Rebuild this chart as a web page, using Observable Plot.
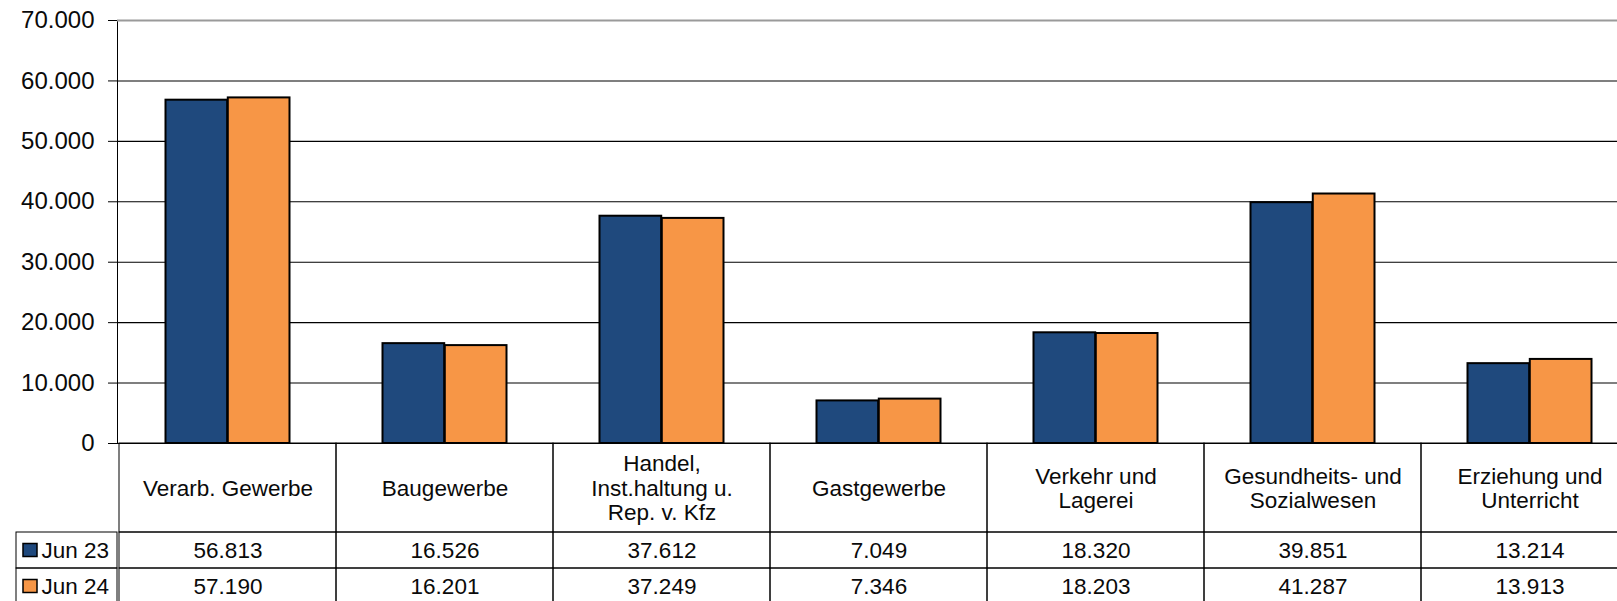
<!DOCTYPE html>
<html>
<head>
<meta charset="utf-8">
<script src="https://cdn.jsdelivr.net/npm/d3@7"></script>
<script src="https://cdn.jsdelivr.net/npm/@observablehq/plot@0.6"></script>
<style>
  html, body { margin: 0; padding: 0; background: #fff; overflow: hidden; }
  #wrap { position: relative; width: 1640px; height: 601px; }
  #wrap > svg, #wrap > figure { position: absolute; margin: 0; }
</style>
</head>
<body>
<div id="wrap"></div>
<script>
// ---- data ----
const categories = [
  "Verarb. Gewerbe",
  "Baugewerbe",
  "Handel,\nInst.haltung u.\nRep. v. Kfz",
  "Gastgewerbe",
  "Verkehr und\nLagerei",
  "Gesundheits- und\nSozialwesen",
  "Erziehung und\nUnterricht"
];
const series = ["Jun 23", "Jun 24"];
const jun23 = [56813, 16526, 37612, 7049, 18320, 39851, 13214];
const jun24 = [57190, 16201, 37249, 7346, 18203, 41287, 13913];
const yTicks = [0, 10000, 20000, 30000, 40000, 50000, 60000, 70000];
const colors = ["#1F497D", "#F79646"];

const rows23 = categories.map((c, i) => ({category: c, series: series[0], value: jun23[i]}));
const rows24 = categories.map((c, i) => ({category: c, series: series[1], value: jun24[i]}));
const tableData = rows23.concat(rows24);

const de = d3.formatLocale({decimal: ",", thousands: ".", grouping: [3], currency: ["", " €"]});
const fmt = de.format(",d");

// ---- layout ----
const FONT = "'Liberation Sans', Arial, Helvetica, sans-serif";
const PL = 117, PT = 20, PB = 443, PR = 1640;
const plotW = PR - PL;
const bw = plotW / categories.length;
const outer = 46.5;
const textColor = "#0a0a0a";
const lineColor = "#000";

const wrap = document.getElementById("wrap");

// Chart
const chart = Plot.plot({
  width: PR, height: PB + 17,
  marginTop: PT, marginBottom: 17, marginLeft: PL, marginRight: 0,
  style: {fontFamily: FONT, fontSize: "24px", color: textColor, background: "transparent", maxWidth: "none"},
  x: {domain: categories, padding: 0, axis: null},
  y: {domain: [0, 70000], axis: null},
  marks: [
    Plot.frame({stroke: lineColor}),
    Plot.ruleY(yTicks.slice(1, -1), {stroke: "#000", strokeWidth: 1.1}),
    Plot.ruleY([70000], {stroke: "#9a9a9a", strokeWidth: 2}),
    Plot.barY(rows23, {x: "category", y: "value", fill: colors[0], stroke: "#000", strokeWidth: 2,
      insetLeft: outer, insetRight: bw / 2}),
    Plot.barY(rows24, {x: "category", y: "value", fill: colors[1], stroke: "#000", strokeWidth: 2,
      insetLeft: bw / 2, insetRight: outer}),
    Plot.ruleY([0], {stroke: lineColor}),
    Plot.axisY(yTicks, {anchor: "left", tickFormat: fmt, tickSize: 9, tickPadding: 14,
      stroke: lineColor, fill: textColor, label: null})
  ]
});
chart.style.left = "0px"; chart.style.top = "0px";
wrap.appendChild(chart);

// Header row (category labels)
const header = Plot.plot({
  width: plotW + 2, height: (532 - PB) + 2,
  margin: 1,
  style: {fontFamily: FONT, fontSize: "22.5px", color: textColor, background: "transparent", maxWidth: "none"},
  x: {domain: categories, padding: 0, axis: null},
  marks: [
    Plot.cell(categories, {x: d => d, stroke: lineColor, fill: "none"}),
    Plot.text(categories, {x: d => d, text: d => d, frameAnchor: "middle", lineHeight: 1.09, fill: textColor})
  ]
});
header.style.left = (PL - 1) + "px"; header.style.top = (PB - 1) + "px";
wrap.appendChild(header);

// Value rows
const rows = Plot.plot({
  width: plotW + 2, height: 74,
  margin: 1,
  style: {fontFamily: FONT, fontSize: "22.5px", color: textColor, background: "transparent", maxWidth: "none"},
  x: {domain: categories, padding: 0, axis: null},
  y: {domain: series, padding: 0, range: [1, 73], axis: null},
  marks: [
    Plot.cell(tableData, {x: "category", y: "series", stroke: lineColor, fill: "none"}),
    Plot.text(tableData, {x: "category", y: "series", text: d => fmt(d.value), fill: textColor})
  ]
});
rows.style.left = (PL - 1) + "px"; rows.style.top = "531px";
wrap.appendChild(rows);

// Row labels with legend keys
const labels = Plot.plot({
  width: 103, height: 74,
  margin: 1,
  style: {fontFamily: FONT, fontSize: "22.5px", color: textColor, background: "transparent", maxWidth: "none"},
  y: {domain: series, padding: 0, range: [1, 73], axis: null},
  color: {domain: series, range: colors},
  marks: [
    Plot.cell(series, {y: d => d, stroke: lineColor, fill: "none"}),
    Plot.cell(series, {y: d => d, fill: d => d, stroke: "#000", strokeWidth: 1.5,
      insetLeft: 7, insetRight: 80, insetTop: 11.5, insetBottom: 11.5}),
    Plot.text(series, {y: d => d, text: d => d, frameAnchor: "left", dx: 25, textAnchor: "start", fill: textColor})
  ]
});
labels.style.left = "15px"; labels.style.top = "531px";
wrap.appendChild(labels);
</script>
</body>
</html>
